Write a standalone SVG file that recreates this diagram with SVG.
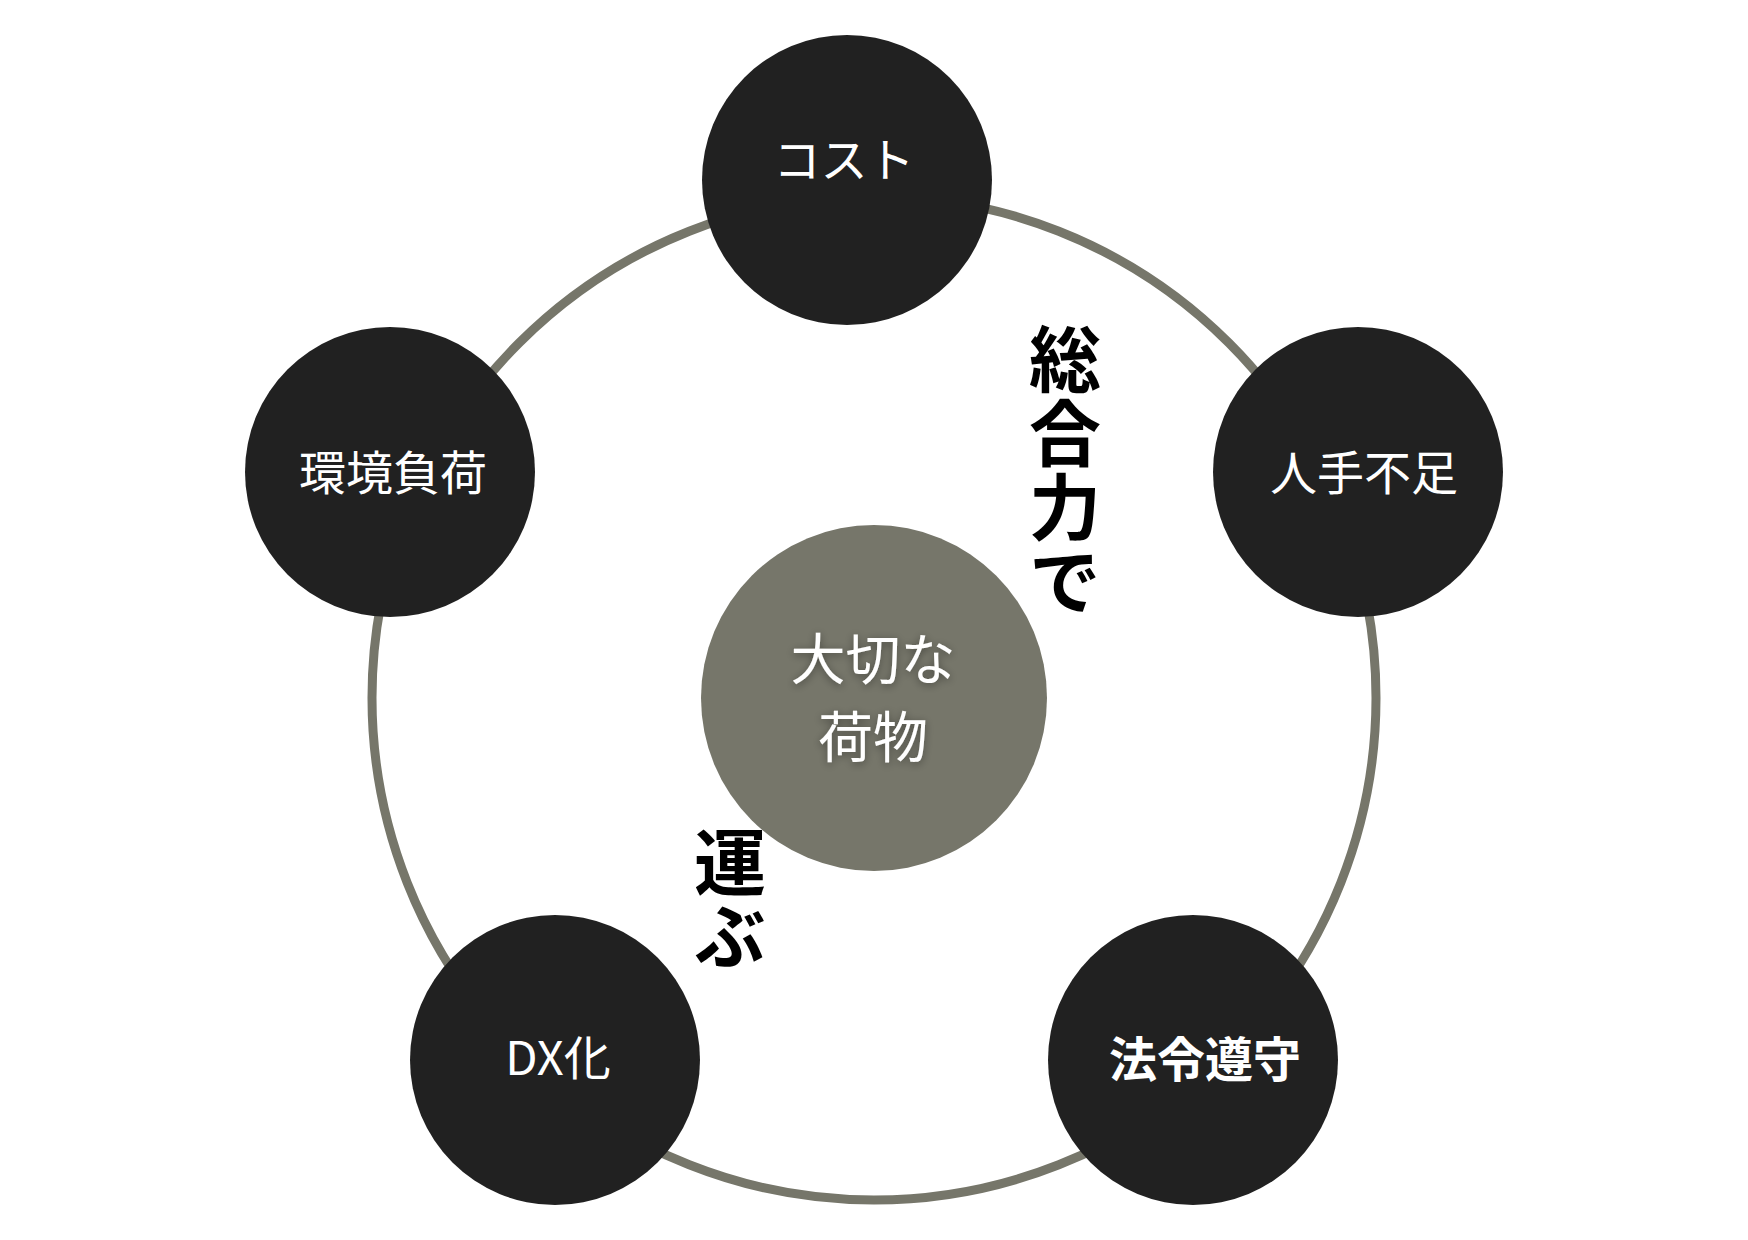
<svg xmlns="http://www.w3.org/2000/svg" width="1748" height="1240" viewBox="0 0 1748 1240">
  <defs>
    <style>
      .node { fill: #212121; }
      .lbl { fill: #ffffff; font-family: "Noto Sans CJK JP", "Noto Sans", sans-serif; text-anchor: middle; }
      .reg { font-size: 47px; font-weight: 400; }
      .bold { font-size: 48px; font-weight: 700; }
      .big { fill: #000000; font-family: "Noto Sans CJK JP", "Noto Sans", sans-serif; font-size: 72px; font-weight: 700; writing-mode: vertical-rl; text-anchor: start; letter-spacing: 2px; }
      .ring { fill: none; stroke: #76766a; stroke-width: 9; }
    </style>
    <filter id="shadow" x="-20%" y="-20%" width="140%" height="140%">
      <feDropShadow dx="0" dy="2" stdDeviation="4" flood-color="#000000" flood-opacity="0.4"/>
    </filter>
  </defs>
  <rect width="1748" height="1240" fill="#ffffff"/>

  <g id="connectors">
    <circle class="ring" cx="874" cy="698" r="502"/>
  </g>

  <g id="center">
    <circle cx="874" cy="698" r="173" fill="#76766a"/>
    <text class="lbl" font-size="55" filter="url(#shadow)" x="873" y="679">大切な</text>
    <text class="lbl" font-size="55" filter="url(#shadow)" x="873" y="757">荷物</text>
  </g>

  <g id="node-cost">
    <circle class="node" cx="847" cy="180" r="145"/>
    <text class="lbl reg" font-size="46" x="844" y="177">コスト</text>
  </g>

  <g id="node-kankyo">
    <circle class="node" cx="390" cy="472" r="145"/>
    <text class="lbl reg" x="393" y="490">環境負荷</text>
  </g>

  <g id="node-hitode">
    <circle class="node" cx="1358" cy="472" r="145"/>
    <text class="lbl reg" x="1364" y="490">人手不足</text>
  </g>

  <g id="node-dx">
    <circle class="node" cx="555" cy="1060" r="145"/>
    <text class="lbl reg" x="558" y="1075">DX化</text>
  </g>

  <g id="node-horei">
    <circle class="node" cx="1193" cy="1060" r="145"/>
    <text class="lbl bold" x="1205" y="1077">法令遵守</text>
  </g>

  <g id="label-sogoryoku">
    <text class="big" x="1065" y="323">総合力で</text>
  </g>

  <g id="label-hakobu">
    <text class="big" x="730" y="826">運ぶ</text>
  </g>
</svg>
